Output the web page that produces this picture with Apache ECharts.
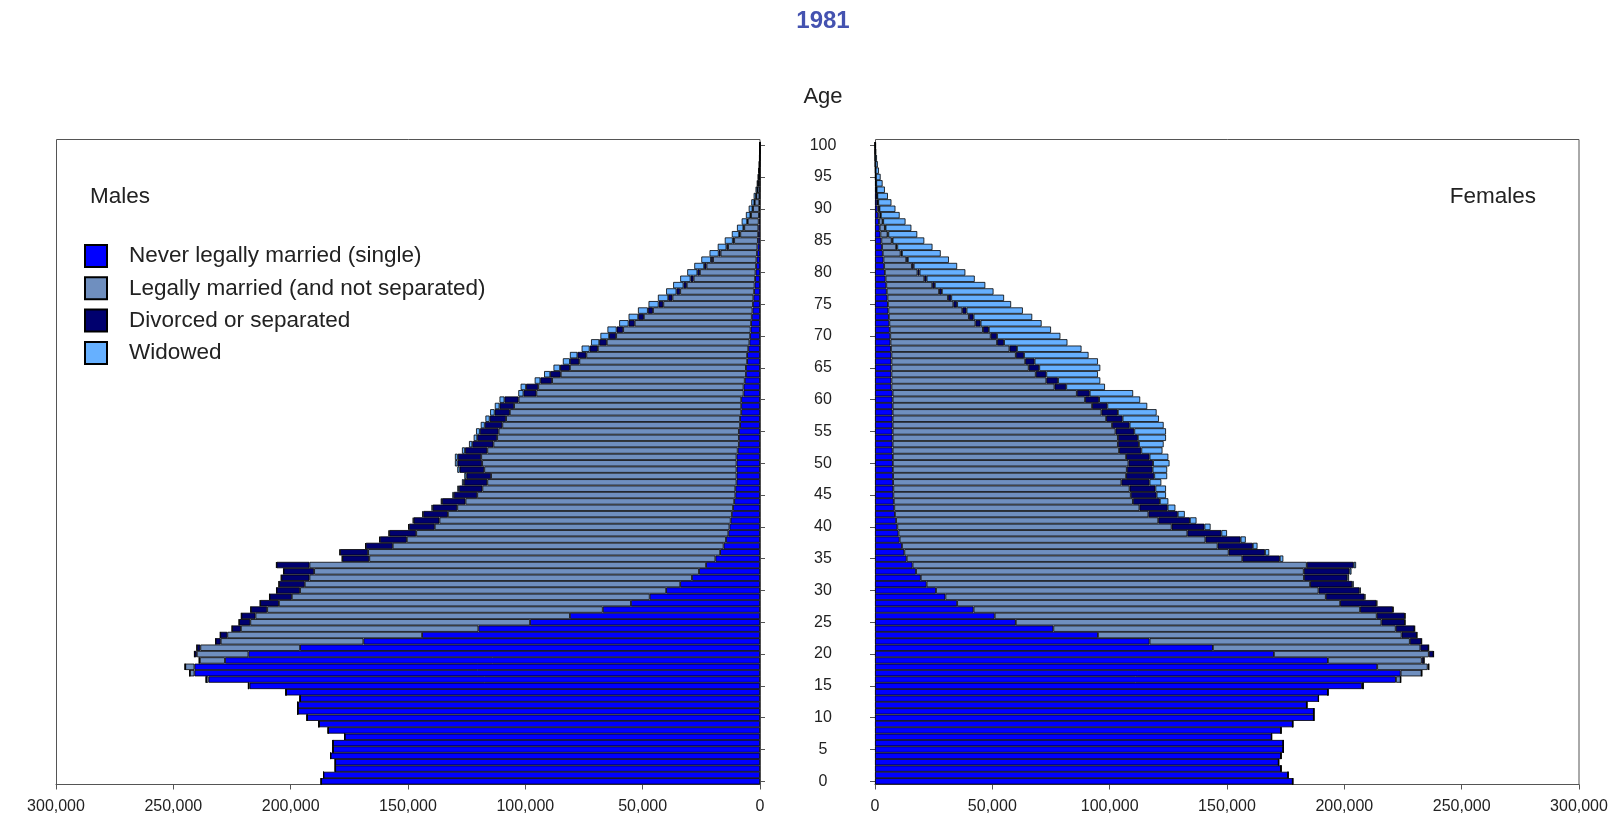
<!DOCTYPE html>
<html>
<head>
<meta charset="utf-8">
<script src="https://cdn.jsdelivr.net/npm/echarts@6/dist/echarts.min.js"></script>
<style>
html,body{margin:0;padding:0;background:#fff;}
#chart{width:1619px;height:829px;}
</style>
</head>
<body>
<div id="chart"></div>
<script>
// Ages (category axis)
const ages = ['0','1','2','3','4','5','6','7','8','9','10','11','12','13','14','15','16','17','18','19',
'20','21','22','23','24','25','26','27','28','29','30','31','32','33','34','35','36','37','38','39',
'40','41','42','43','44','45','46','47','48','49','50','51','52','53','54','55','56','57','58','59',
'60','61','62','63','64','65','66','67','68','69','70','71','72','73','74','75','76','77','78','79',
'80','81','82','83','84','85','86','87','88','89','90','91','92','93','94','95','96','97','98','99','100'];

const seriesNames = ['Never legally married (single)','Legally married (and not separated)','Divorced or separated','Widowed'];

// Values in thousands of persons, ages 0..100
const maleSingle = [
187,186,181,181,183,182,182,177,184,188,
193,197,197,196,202,217.5,235,241,241,228,
218,196,169,144,120,98,81,67,55,47,
40,34,29,26,23,19,17,15.5,14.5,13.5,
13,12.5,12,11.5,11,10.5,10.5,10,10,10,
10,10,9.5,9,9,9,8.5,8.5,8,8,
8,7,7,6.5,6,6,5.5,5.5,5,4.5,
4.2,4,3.8,3.5,3.2,3,2.8,2.5,2.3,2.1,
1.9,1.7,1.5,1.3,1.1,0.9,0.8,0.7,0.55,0.45,
0.35,0.3,0.22,0.16,0.12,0.09,0.06,0.04,0.03,0.02,
0.02];
const maleMarried = [
0,0,0,0,0,0,0,0,0,0,
0,0,0,0,0,0.5,1,2,3.9,10.7,
22,42.5,60.8,83,101.2,119.2,134,143,150,152.5,
156,160,163,164,169,147.5,150,141,136,133,
125.6,124.1,121,117.5,114.5,110,107.8,106.2,104.6,107.5,
108.4,108.8,106.7,104.6,103,102.4,101.3,99.7,98.6,96.8,
94.9,88.3,87.5,82.1,78.9,75,71.5,68.5,64.1,60.8,
57.1,54.3,49.6,46,42.4,38.2,34.5,31.5,28.9,26.2,
23.7,21.1,18.5,15.5,12.5,10.1,7.6,6,4.65,3.4,
2.65,1.95,1.38,0.91,0.67,0.44,0.3,0.18,0.11,0.08,
0.08];
const maleDivorced = [
0,0,0,0,0,0,0,0,0,0,
0,0,0,0,0,0,0,0,0.1,0.3,
1,1.5,2.2,3,3.8,4.8,6,7,8,9.5,
10,11,12,13,14,11.5,12,11.5,11.5,11.5,
11,11,10.5,10.5,10,10,10,10,10.5,10.5,
10.5,10,9.5,9,8.5,8,7.5,7,6.5,6.2,
6,5.5,5.2,5,4.5,4.2,4,3.8,3.5,3.2,
3,2.8,2.6,2.4,2.2,2,1.8,1.6,1.4,1.3,
1.1,1,0.9,0.8,0.7,0.6,0.5,0.4,0.3,0.25,
0.2,0.15,0.1,0.08,0.06,0.05,0.04,0.03,0.02,0.01,
0.01];
const maleWidowed = [
0,0,0,0,0,0,0,0,0,0,
0,0,0,0,0,0,0,0,0,0,
0.02,0.02,0.02,0.02,0.02,0.05,0.05,0.05,0.05,0.05,
0.08,0.09,0.1,0.12,0.15,0.15,0.18,0.2,0.25,0.3,
0.35,0.4,0.45,0.5,0.55,0.6,0.7,0.8,0.9,1,
1.1,1.2,1.3,1.4,1.5,1.6,1.7,1.8,1.9,2,
2.1,2.2,2.3,2.4,2.6,2.8,3,3.2,3.4,3.5,
3.7,3.9,4,4.1,4.2,4.3,4.4,4.4,4.4,4.4,
4.3,4.2,4.1,3.9,3.7,3.4,3.1,2.7,2.3,1.9,
1.6,1.3,1,0.75,0.55,0.42,0.3,0.2,0.14,0.09,
0.09];

const femaleSingle = [
178,176,173,172,173,174,174,169,173,178,
187,187,184,189,193,207.5,222,224,214,193,
170,144,117,95,76,60,51,42,35,30,
26,22,19.5,17.5,16,13.5,12.5,11.5,10.5,10,
9.5,9,8.5,8.2,8,7.8,7.8,7.7,7.7,7.6,
7.6,7.6,7.5,7.5,7.5,7.5,7.5,7.5,7.5,7.5,
7.5,7.5,7,7,7,7,7,7,6.8,6.6,
6.5,6.3,6.1,5.9,5.7,5.5,5.3,5,4.8,4.5,
4.2,3.9,3.6,3.3,3,2.7,2.3,2,1.7,1.4,
1.1,0.9,0.7,0.5,0.4,0.3,0.2,0.14,0.1,0.06,
0.05];
const femaleMarried = [
0,0,0,0,0,0,0,0,0,0,
0,0,0,0,0,0.5,2,8.9,21.5,40,
66,88.4,110.9,129.4,145.9,155.8,162.8,164.7,163.2,162.1,
163,163.4,163.3,165.2,168,143,138.2,134.5,130.3,123.1,
116.9,111.7,108,104.5,101.9,101.2,100.7,97.3,99.3,99.7,
100.4,99.4,96.5,96,96,95,93.5,91,89,85,
82,78.5,69.5,66,61.5,58.5,57,53,50.5,45.4,
42.8,39.7,36.7,34.1,31.5,27.9,25.8,22.3,19.6,16.5,
13.9,11.8,9.7,7.6,6,4.4,3.05,2.2,1.55,0.9,
0.65,0.4,0.22,0.14,0.08,0.06,0.05,0.04,0.03,0.02,
0.02];
const femaleDivorced = [
0,0,0,0,0,0,0,0,0,0,
0,0,0,0,0,0,0,0.1,0.5,1,
2,3.5,5,6.5,8,10,12,14,15.5,16.5,
17.5,18,18.5,19.5,20,16,15.5,15,15,14.5,
14,13.5,12.5,12,11.5,11,11,12,12,11,
10.5,10,9.5,9,8.5,8,7.5,7,7,6.5,
6,5.5,5,5,4.5,4.5,4,3.5,3.2,3,
2.7,2.5,2.2,2,1.8,1.6,1.4,1.2,1.1,1,
0.9,0.8,0.7,0.6,0.5,0.4,0.35,0.3,0.25,0.2,
0.15,0.1,0.08,0.06,0.05,0.04,0.03,0.02,0.01,0.01,
0.01];
const femaleWidowed = [
0,0,0,0,0,0,0,0,0,0,
0,0,0,0,0,0,0,0,0,0,
0.05,0.07,0.1,0.12,0.15,0.2,0.25,0.3,0.35,0.4,
0.5,0.6,0.7,0.85,1,1.5,1.8,2,2.2,2.4,
2.6,2.8,3,3.3,3.6,4,4.5,5,5.5,6.2,
7,8,9,10.5,12,13.5,14.5,15.5,16.5,17,
17.5,18.5,16.5,18,22,26,27,27.5,27.5,27,
27,26.5,26,25,24,23,22.5,22,21.5,20.5,
19.5,18.5,17.5,16.5,15,13.5,12.3,11,9.5,8,
6.8,5.6,4.5,3.5,2.7,2,1.4,1,0.7,0.45,
0.35];

const xTicks = [0, 50, 100, 150, 200, 250, 300]; // thousands
const colors = ['#0000ff', '#6f8fbf', '#00006e', '#66b0ff'];

const FONT = '"Liberation Sans", Arial, Helvetica, sans-serif';
const fmt = v => (v * 1000).toLocaleString('en-US');

const chart = echarts.init(document.getElementById('chart'), null, {renderer: 'canvas'});

function barSeries(name, data, idx, stack, color) {
  return {
    name: name, type: 'bar', stack: stack, xAxisIndex: idx, yAxisIndex: idx,
    data: data, barCategoryGap: '0%',
    itemStyle: {color: color, borderColor: '#000', borderWidth: 0.8},
    emphasis: {disabled: true}
  };
}

const axisCommonX = {
  type: 'value', min: xTicks[0], max: xTicks[xTicks.length - 1], interval: 50,
  axisLine: {show: true, onZero: false, lineStyle: {color: '#555', width: 1}},
  axisTick: {show: true, length: 5, lineStyle: {color: '#555'}},
  axisLabel: {fontSize: 16, color: '#222', margin: 14, fontFamily: FONT, formatter: fmt},
  splitLine: {show: false}
};

const option = {
  animation: false,
  backgroundColor: '#fff',
  textStyle: {fontFamily: FONT},
  grid: [
    {left: 56, top: 142, width: 704, height: 642.5},
    {left: 875, top: 142, width: 704, height: 642.5}
  ],
  xAxis: [
    Object.assign({gridIndex: 0, inverse: true}, axisCommonX),
    Object.assign({gridIndex: 1}, axisCommonX)
  ],
  yAxis: [
    {gridIndex: 0, type: 'category', data: ages, position: 'right',
     axisLine: {show: true, onZero: false, lineStyle: {color: '#555'}},
     axisTick: {show: true, interval: 4, alignWithLabel: true, length: 5, lineStyle: {color: '#555'}},
     axisLabel: {show: false, interval: 4}, splitLine: {show: false}},
    {gridIndex: 1, type: 'category', data: ages, position: 'left',
     axisLine: {show: true, onZero: false, lineStyle: {color: '#555'}},
     axisTick: {show: true, interval: 4, alignWithLabel: true, length: 5, lineStyle: {color: '#555'}},
     axisLabel: {show: true, interval: 4, fontSize: 16, color: '#222', margin: 52, align: 'center', fontFamily: FONT},
     splitLine: {show: false}}
  ],
  legend: {
    orient: 'vertical', left: 79, top: 239, itemWidth: 22, itemHeight: 22, itemGap: 8.3,
    icon: 'rect', selectedMode: false,
    data: seriesNames,
    textStyle: {fontSize: 22.5, color: '#222', fontFamily: FONT, lineHeight: 22, padding: [0, 0, 0, 17]}
  },
  graphic: [
    {type: 'rect', z: 0, shape: {x: 56.5, y: 139.5, width: 703.5, height: 645}, style: {fill: 'none', stroke: '#555', lineWidth: 1}},
    {type: 'rect', z: 0, shape: {x: 875.5, y: 139.5, width: 703.5, height: 645}, style: {fill: 'none', stroke: '#555', lineWidth: 1}},
    {type: 'text', x: 823, y: 21, style: {text: '1981', font: 'bold 24px ' + FONT, fill: '#4452b0', align: 'center', verticalAlign: 'middle'}},
    {type: 'text', x: 823, y: 97, style: {text: 'Age', font: '22px ' + FONT, fill: '#222', align: 'center', verticalAlign: 'middle'}},
    {type: 'text', x: 90, y: 197, style: {text: 'Males', font: '22.5px ' + FONT, fill: '#222', align: 'left', verticalAlign: 'middle'}},
    {type: 'text', x: 1536, y: 197, style: {text: 'Females', font: '22.5px ' + FONT, fill: '#222', align: 'right', verticalAlign: 'middle'}}
  ],
  series: [
    barSeries(seriesNames[0], maleSingle, 0, 'm', colors[0]),
    barSeries(seriesNames[1], maleMarried, 0, 'm', colors[1]),
    barSeries(seriesNames[2], maleDivorced, 0, 'm', colors[2]),
    barSeries(seriesNames[3], maleWidowed, 0, 'm', colors[3]),
    barSeries(seriesNames[0], femaleSingle, 1, 'f', colors[0]),
    barSeries(seriesNames[1], femaleMarried, 1, 'f', colors[1]),
    barSeries(seriesNames[2], femaleDivorced, 1, 'f', colors[2]),
    barSeries(seriesNames[3], femaleWidowed, 1, 'f', colors[3])
  ]
};
chart.setOption(option);
</script>
</body>
</html>
